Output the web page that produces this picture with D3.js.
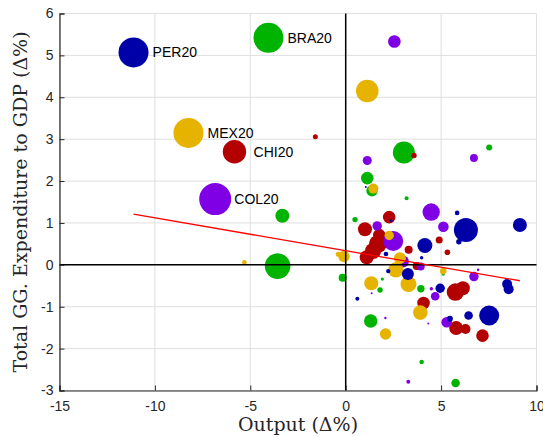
<!DOCTYPE html>
<html>
<head>
<meta charset="utf-8">
<script src="https://cdn.jsdelivr.net/npm/d3@7"></script>
<style>
body { margin: 0; background: #fff; }
</style>
</head>
<body>
<div id="content"></div>
<script>
// axis ticks
var xTicks = [-15, -10, -5, 0, 5, 10];
var yTicks = [-3, -2, -1, 0, 1, 2, 3, 4, 5, 6];

// one array per country: output change, expenditure change, bubble size (first point = 2020)
var braX = [-4.05, 3.05, 7.52, 1.13, 1.38, 3.19, -3.32, -3.57, 0.49, -0.16, 1.92, 1.80, 3.94, 5.11, 1.31, 3.98, 5.76];
var braY = [5.42, 2.68, 2.80, 2.07, 1.77, 1.59, 1.17, -0.03, 1.08, -0.31, -0.34, -0.60, -0.57, -0.22, -1.34, -2.32, -2.82];
var braS = [15, 11, 3, 6.3, 5.7, 2, 7, 12.8, 2.7, 4, 1.6, 2.7, 3.7, 1.7, 6.7, 2.3, 4.3];

var chiX = [-5.83, -1.59, 3.58, 2.28, 1.01, 1.76, 1.69, 1.43, 1.10, 3.30, 4.90, 5.33, 3.72, 5.75, 6.14, 4.08, 5.79, 6.28, 7.17];
var chiY = [2.70, 3.06, 2.61, 1.14, 0.85, 0.71, 0.50, 0.33, 0.18, 0.36, 0.59, 0.30, -0.03, -0.65, -0.56, -0.91, -1.51, -1.53, -1.69];
var chiS = [11.7, 2.5, 2.7, 6.3, 7, 6.3, 9, 8, 7, 4, 3.5, 2.8, 4, 8.7, 7, 6.3, 7, 5, 6.3];

var colX = [-6.84, 2.55, 1.13, 6.72, 4.48, 1.65, 5.12, 2.49, 3.00, 3.93, 6.72, 6.94, 4.49, 4.69, 1.36, 2.08, 4.33, 5.29, 3.28];
var colY = [1.57, 5.33, 2.49, 2.55, 1.26, 0.93, 0.91, 0.57, 0.08, -0.04, -0.28, -0.12, -0.57, -0.75, -0.68, -1.27, -1.40, -1.37, -2.79];
var colS = [16, 6.3, 4.5, 4, 8.7, 4.7, 5.3, 10, 6, 4, 4.7, 1.3, 1.7, 4.3, 1, 1.2, 1, 5.3, 2];

var mexX = [-8.24, 1.13, 1.45, -5.31, 2.28, -0.09, -0.39, 2.84, 2.63, 3.29, 1.34, 5.11, 3.91, 2.09];
var mexY = [3.15, 4.15, 1.82, 0.06, 0.70, 0.20, 0.25, 0.16, -0.12, -0.46, -0.44, -0.15, -1.14, -1.65];
var mexS = [15, 11.3, 5, 2.3, 4.7, 5.7, 2.5, 6, 7.7, 8, 7, 3.3, 7.3, 5.7];

var perX = [-11.12, 6.30, 9.13, 4.15, 3.26, 4.95, 8.46, 8.54, 7.52, 6.44, 5.46, 5.84, 5.93, 0.61, 2.11, 2.23, 1.05, 2.37, 3.98];
var perY = [5.07, 0.83, 0.95, 0.46, -0.22, -0.56, -0.46, -0.58, -1.21, -1.21, -1.29, 1.24, 0.55, -0.81, 0.26, -0.15, 1.86, 1.05, 0.17];
var perS = [15, 12, 7, 7.5, 6, 4.7, 5, 5, 10, 4.3, 3, 2.3, 2.7, 2, 2.3, 2.2, 1, 1.5, 1.7];

// linear fit drawn across the sample
var fitX = [-11.12, 9.13];
var fitY = [1.21, -0.38];

var series = [
    {name: "BRA20", color: "#00b300", x: braX, y: braY, s: braS},
    {name: "CHI20", color: "#b30000", x: chiX, y: chiY, s: chiS},
    {name: "COL20", color: "#8000e6", x: colX, y: colY, s: colS},
    {name: "MEX20", color: "#e6b300", x: mexX, y: mexY, s: mexS},
    {name: "PER20", color: "#0000a8", x: perX, y: perY, s: perS}
];

var W = 543, H = 437;
var mLeft = 59.5, mRight = 536.5, mTop = 13.5, mBottom = 390.5;

var x = d3.scaleLinear().domain([-15, 10]).range([mLeft, mRight]);
var y = d3.scaleLinear().domain([-3, 6]).range([mBottom, mTop]);
var r = d3.scaleLinear().domain([0, 16]).range([0, 16]);

var svg = d3.select("#content")
    .append("svg")
        .attr("width", W)
        .attr("height", H)
        .style("display", "block");

// grid
svg.append("g").selectAll("line")
    .data(xTicks)
    .enter()
    .append("line")
        .attr("x1", d => x(d)).attr("x2", d => x(d))
        .attr("y1", mTop).attr("y2", mBottom)
        .style("stroke", "#dfdfdf")
        .style("stroke-width", 1);

svg.append("g").selectAll("line")
    .data(yTicks)
    .enter()
    .append("line")
        .attr("x1", mLeft).attr("x2", mRight)
        .attr("y1", d => y(d)).attr("y2", d => y(d))
        .style("stroke", "#dfdfdf")
        .style("stroke-width", 1);

// bubbles, one group per country
series.forEach(function(s) {
    svg.append("g").selectAll("circle")
        .data(s.x.map((v, i) => ({x: v, y: s.y[i], s: s.s[i]})))
        .enter()
        .append("circle")
            .attr("cx", d => x(d.x))
            .attr("cy", d => y(d.y))
            .attr("r", d => r(d.s))
            .style("fill", s.color);
});

// zero lines
svg.append("line")
    .attr("x1", x(0)).attr("x2", x(0))
    .attr("y1", mTop).attr("y2", mBottom)
    .style("stroke", "#000")
    .style("stroke-width", 1.5);
svg.append("line")
    .attr("x1", mLeft).attr("x2", mRight)
    .attr("y1", y(0)).attr("y2", y(0))
    .style("stroke", "#000")
    .style("stroke-width", 1.5);

// fit
svg.append("path")
    .datum(fitX.map((v, i) => [v, fitY[i]]))
    .attr("d", d3.line().x(d => x(d[0])).y(d => y(d[1])))
    .style("fill", "none")
    .style("stroke", "#ff0000")
    .style("stroke-width", 1.3);

// 2020 labels, one x unit to the right of the bubble
svg.append("g").selectAll("text")
    .data(series)
    .enter()
    .append("text")
        .attr("x", d => x(d.x[0] + 1))
        .attr("y", d => y(d.y[0]))
        .attr("dy", "0.35em")
        .style("font-family", "'Liberation Sans', Arial, sans-serif")
        .style("font-size", "14px")
        .style("fill", "#000")
        .text(d => d.name);

// axes
var axisB = d3.axisBottom(x).tickValues(xTicks).tickSize(-5).tickPadding(11).tickFormat(d => String(d));
var axisL = d3.axisLeft(y).tickValues(yTicks).tickSize(-5).tickPadding(6).tickFormat(d => String(d));

var gx = svg.append("g").attr("transform", "translate(0," + mBottom + ")").call(axisB);
var gy = svg.append("g").attr("transform", "translate(" + mLeft + ",0)").call(axisL);

[gx, gy].forEach(function(g) {
    g.selectAll("path").style("stroke", "#262626").style("stroke-width", 1.2);
    g.selectAll("line").style("stroke", "#262626");
    g.selectAll("text")
        .style("font-family", "'Liberation Sans', Arial, sans-serif")
        .style("font-size", "14px")
        .style("fill", "#262626");
});

// axis titles
svg.append("text")
    .attr("x", (mLeft + mRight) / 2)
    .attr("y", 431)
    .attr("text-anchor", "middle")
    .style("font-family", "'DejaVu Serif', serif")
    .style("font-size", "19px")
    .style("fill", "#262626")
    .text("Output (Δ%)");

svg.append("text")
    .attr("transform", "translate(27,202) rotate(-90)")
    .attr("text-anchor", "middle")
    .style("font-family", "'DejaVu Serif', serif")
    .style("font-size", "19px")
    .style("fill", "#262626")
    .text("Total GG. Expenditure to GDP (Δ%)");
</script>
</body>
</html>
